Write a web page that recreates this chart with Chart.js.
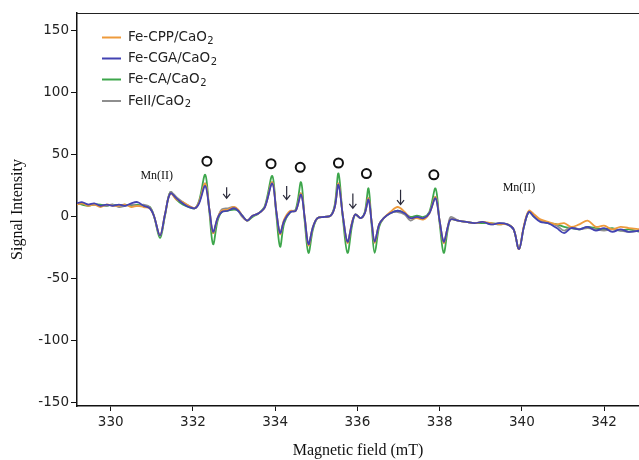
<!DOCTYPE html>
<html>
<head>
<meta charset="utf-8">
<script src="https://cdn.jsdelivr.net/npm/chart.js@4/dist/chart.umd.min.js"></script>
<style>
html,body{margin:0;padding:0;background:#fff;}
#c{display:block;}
</style>
</head>
<body>
<canvas id="c" width="639" height="460"></canvas>
<script>
const seriesLabels = ["Fe-CPP/CaO\u2082", "Fe-CGA/CaO\u2082", "Fe-CA/CaO\u2082", "FeII/CaO\u2082"];

const field = [329.18,329.3,329.45,329.6,329.75,329.9,330.05,330.2,330.35,330.5,
330.65,330.8,330.95,331.05,331.2,331.32,331.45,331.6,331.75,331.9,
332.05,332.15,332.3,332.4,332.49,332.6,332.7,332.85,333.0,333.1,
333.2,333.32,333.45,333.6,333.75,333.93,334.03,334.12,334.22,334.37,
334.5,334.63,334.72,334.81,334.92,335.03,335.2,335.35,335.45,335.54,
335.65,335.76,335.87,335.95,336.08,336.18,336.27,336.35,336.42,336.53,
336.64,336.8,336.98,337.15,337.29,337.45,337.61,337.75,337.9,338.0,
338.1,338.2,338.27,338.45,338.65,338.85,339.05,339.25,339.45,339.65,
339.8,339.93,340.05,340.17,340.3,340.45,340.64,340.85,341.03,341.2,
341.4,341.6,341.8,342.0,342.2,342.4,342.6,342.88];

const feCPP = [10,11,9,10,8,10,9,9,10,8,
9,8,7,1,-15,2,19,14,12,9,
7,12,27,6,-13,-1,5,6,8,6,
1,-3,1,3,8,28,4,-14,-2,5,
5,19,-1,-23,-8,-1,0,1,8,27,
0,-21,-4,2,-1,3,15,-5,-21,-6,
-1,4,8,4,-1,-1,-2,3,16,-3,
-21,-8,-2,-3,-4,-5,-4,-5,-6,-6,
-10,-26,-7,5,2,-2,-4,-6,-5,-8,
-6,-3,-8,-7,-10,-8,-9,-10];

const feCGA = [11,12,10,11,9,10,9,10,9,11,
12,9,7,1,-15,2,19,15,11,8,
7,11,25,6,-12,-1,4,5,7,5,
1,-3,1,3,8,27,4,-13,-3,4,
5,18,-1,-22,-8,-1,0,1,8,26,
0,-20,-5,2,-1,3,14,-5,-20,-6,
-1,3,5,3,-1,0,-1,3,15,-3,
-20,-8,-2,-3,-4,-5,-4,-6,-5,-6,
-10,-26,-8,4,0,-4,-5,-9,-13,-9,
-10,-8,-11,-9,-12,-10,-12,-11];

const feCA = [11,10,9,10,10,9,10,9,10,9,
10,9,8,1,-17,1,20,14,10,8,
7,13,34,4,-22,-3,4,5,6,5,
1,-3,0,3,9,33,1,-24,-5,4,
6,28,-4,-29,-10,-1,0,1,10,35,
-2,-29,-7,2,-1,4,23,-8,-29,-8,
-1,3,5,3,0,1,0,4,23,-5,
-29,-10,-2,-3,-4,-5,-5,-5,-6,-6,
-10,-26,-8,4,0,-3,-5,-6,-8,-9,
-10,-8,-9,-10,-9,-11,-10,-12];

const feII = [11,11,10,10,9,9,10,8,9,10,
9,10,8,1,-15,2,20,16,12,9,
7,12,27,6,-13,-1,6,7,8,5,
0,-3,1,3,8,28,4,-13,-3,4,
5,19,-1,-22,-8,-1,0,1,8,27,
0,-20,-5,2,-1,3,15,-5,-20,-6,
-1,3,4,2,-3,0,-1,3,16,-3,
-20,-8,0,-3,-4,-5,-4,-6,-5,-6,
-10,-26,-8,4,1,-3,-5,-7,-11,-8,
-10,-9,-10,-11,-10,-11,-12,-11];

const xTicksStep = 2;
const yTicksStep = 50;

// annotation marks (data coordinates)
const circleFields = [332.34, 333.90, 334.61, 335.54, 336.22, 337.86];
const circleLevels = [45, 43, 40, 43.5, 35, 34];
const arrowFields = [332.82, 334.28, 335.89, 337.05];
const arrowTops = [24, 25, 19, 22];
const arrowBottoms = [15, 14, 7, 10];
const mnLabelFields = [331.12, 339.93];
const mnLabelLevels = [33, 23.4];

const colors = ["#EE9B3C", "#4343B2", "#3DA64B", "#8E8E8E"];
const seriesValues = [feCPP, feCGA, feCA, feII];
const drawOrder = [1, 0, 3, 2];

const datasets = seriesLabels.map((lab, i) => ({
  label: lab,
  data: field.map((f, k) => ({x: f, y: seriesValues[i][k]})),
  borderColor: colors[i],
  backgroundColor: colors[i],
  borderWidth: 1.8,
  pointRadius: 0,
  fill: false,
  tension: 0.35,
  order: drawOrder[i]
}));

function drawLabelWithSub(ctx, text, x, y) {
  const parts = text.split('\u2082');
  ctx.font = '13.5px "DejaVu Sans"';
  let cx = x;
  parts.forEach((p, idx) => {
    ctx.font = '13.5px "DejaVu Sans"';
    ctx.fillText(p, cx, y);
    cx += ctx.measureText(p).width;
    if (idx < parts.length - 1) {
      ctx.font = '10px "DejaVu Sans"';
      ctx.fillText('2', cx + 0.5, y + 3.5);
      cx += ctx.measureText('2').width + 0.5;
    }
  });
}

const overlay = {
  id: 'overlay',
  afterDraw(chart) {
    const ctx = chart.ctx;
    const xs = chart.scales.x, ys = chart.scales.y;
    const ca = chart.chartArea;
    ctx.save();
    // top frame line
    ctx.strokeStyle = '#222';
    ctx.lineWidth = 1;
    ctx.beginPath();
    ctx.moveTo(ca.left, ca.top + 0.5);
    ctx.lineTo(ca.right, ca.top + 0.5);
    ctx.stroke();

    // legend
    ctx.textBaseline = 'middle';
    ctx.textAlign = 'left';
    const legY = [37.5, 58.5, 79.5, 101];
    seriesLabels.forEach((lab, i) => {
      ctx.strokeStyle = colors[i];
      ctx.lineWidth = 2;
      ctx.beginPath();
      ctx.moveTo(102, legY[i]);
      ctx.lineTo(121, legY[i]);
      ctx.stroke();
      ctx.fillStyle = '#222';
      drawLabelWithSub(ctx, lab, 128, legY[i]);
    });

    // circles
    ctx.strokeStyle = '#111';
    ctx.lineWidth = 2;
    circleFields.forEach((f, i) => {
      ctx.beginPath();
      ctx.arc(xs.getPixelForValue(f), ys.getPixelForValue(circleLevels[i]), 4.5, 0, Math.PI * 2);
      ctx.stroke();
    });

    // arrows
    ctx.strokeStyle = '#2a2a3a';
    ctx.lineWidth = 1.2;
    arrowFields.forEach((f, i) => {
      const x = xs.getPixelForValue(f);
      const y1 = ys.getPixelForValue(arrowTops[i]);
      const y2 = ys.getPixelForValue(arrowBottoms[i]);
      ctx.beginPath();
      ctx.moveTo(x, y1);
      ctx.lineTo(x, y2);
      ctx.moveTo(x - 3.5, y2 - 4.5);
      ctx.lineTo(x, y2);
      ctx.lineTo(x + 3.5, y2 - 4.5);
      ctx.stroke();
    });

    // Mn(II) labels
    ctx.fillStyle = '#111';
    ctx.font = '12px "Liberation Serif"';
    ctx.textAlign = 'center';
    mnLabelFields.forEach((f, i) => {
      ctx.fillText('Mn(II)', xs.getPixelForValue(f), ys.getPixelForValue(mnLabelLevels[i]));
    });
    ctx.restore();
  }
};

new Chart(document.getElementById('c'), {
  type: 'line',
  data: {datasets},
  options: {
    responsive: false,
    animation: false,
    devicePixelRatio: 1,
    layout: {padding: {top: 13, right: 0, left: 0, bottom: 0}},
    plugins: {legend: {display: false}, tooltip: {enabled: false}},
    scales: {
      x: {
        type: 'linear',
        min: 329.18,
        max: 342.85,
        afterFit(s) { s.height = 54; },
        border: {display: true, color: '#111', width: 1.5},
        grid: {drawOnChartArea: false, drawTicks: true, tickLength: 5, color: '#111'},
        ticks: {stepSize: xTicksStep, includeBounds: false, color: '#222', font: {family: 'DejaVu Sans', size: 13.5}, padding: 3, maxRotation: 0},
        title: {display: true, text: 'Magnetic field (mT)', color: '#111', font: {family: 'Liberation Serif', size: 16}, padding: {top: 0, bottom: 0}}
      },
      y: {
        type: 'linear',
        min: -152.5,
        max: 164.5,
        afterFit(s) { s.width = 77; },
        border: {display: true, color: '#111', width: 1.5},
        grid: {drawOnChartArea: false, drawTicks: true, tickLength: 6, color: '#111'},
        ticks: {stepSize: yTicksStep, includeBounds: false, color: '#222', font: {family: 'DejaVu Sans', size: 13.5}, padding: 2},
        title: {display: true, text: 'Signal Intensity', color: '#111', font: {family: 'Liberation Serif', size: 16}, padding: {top: 8, bottom: 0}}
      }
    }
  },
  plugins: [overlay]
});
</script>
</body>
</html>
